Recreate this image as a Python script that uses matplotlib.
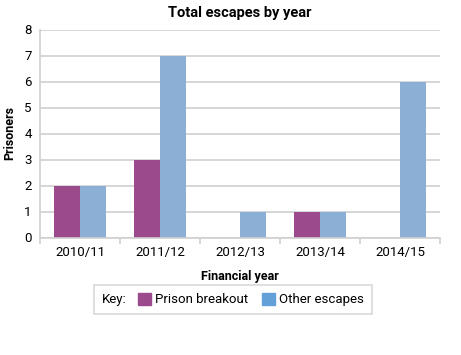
import matplotlib.pyplot as plt
import matplotlib.patches as mpatches
from matplotlib.offsetbox import HPacker
import numpy as np

years = ["2010/11", "2011/12", "2012/13", "2013/14", "2014/15"]
breakout = [2, 3, 0, 1, 0]
other = [2, 7, 1, 1, 6]

purple = "#9b4a8b"
blue = "#8cb0d5"
grid_col = "#d0d0d0"

plt.rcParams['font.family'] = ['Roboto', 'DejaVu Sans']

fig = plt.figure(figsize=(4.61, 3.55), dpi=100)
ax = fig.add_axes([40 / 461, 1 - 237.5 / 355, 400 / 461, 208 / 355])

x = np.arange(len(years))
w = 0.33
ax.bar(x - w / 2, breakout, w, color=purple, label="Prison breakout")
ax.bar(x + w / 2, other, w, color=blue, label="Other escapes")

ax.set_xlim(-0.5, len(years) - 0.5)
ax.set_ylim(0, 8)
ax.set_yticks(range(9))
ax.set_xticks(x)
ax.set_xticklabels(years, fontsize=9.5)
ax.set_xticks(np.arange(-0.5, len(years)), minor=True)
ax.tick_params(axis='x', which='major', length=0, pad=6)
ax.tick_params(axis='x', which='minor', length=4, color=grid_col, width=1.2)
ax.tick_params(axis='y', length=0, labelsize=9.5, pad=6)

ax.yaxis.grid(True, color=grid_col, linewidth=1.2)
ax.set_axisbelow(True)
for s in ['top', 'right']:
    ax.spines[s].set_visible(False)
for s in ['left', 'bottom']:
    ax.spines[s].set_color(grid_col)
    ax.spines[s].set_linewidth(1.2)

ax.set_title("Total escapes by year", fontsize=10.5, fontweight='bold', pad=9)
ax.set_ylabel("Prisoners", fontsize=9, fontweight='bold', labelpad=6)
ax.set_xlabel("Financial year", fontsize=9, fontweight='bold', labelpad=8)

handles = [mpatches.Patch(color=purple), mpatches.Patch(color="#63a0d8")]
leg = fig.legend(handles, ["Prison breakout", "Other escapes"], title="Key:",
                 loc='center', bbox_to_anchor=(233 / 461, 1 - 299.5 / 355),
                 ncol=2, fontsize=9.5, title_fontsize=9.5, frameon=True,
                 fancybox=False, edgecolor=grid_col, handlelength=1.0,
                 handleheight=1.0, handletextpad=0.3, columnspacing=1.0,
                 borderpad=0.6)
leg.get_frame().set_linewidth(1.2)
# put the "Key:" title inline with the entries
title_box = leg._legend_title_box
entries = leg._legend_box.get_children()[1]
box = HPacker(pad=leg.borderpad * leg._fontsize, sep=8,
              children=[title_box, entries], align="center")
box.set_figure(fig)
box.set_offset(leg._findoffset)
leg._legend_box = box

fig.savefig("out.png", dpi=100)
